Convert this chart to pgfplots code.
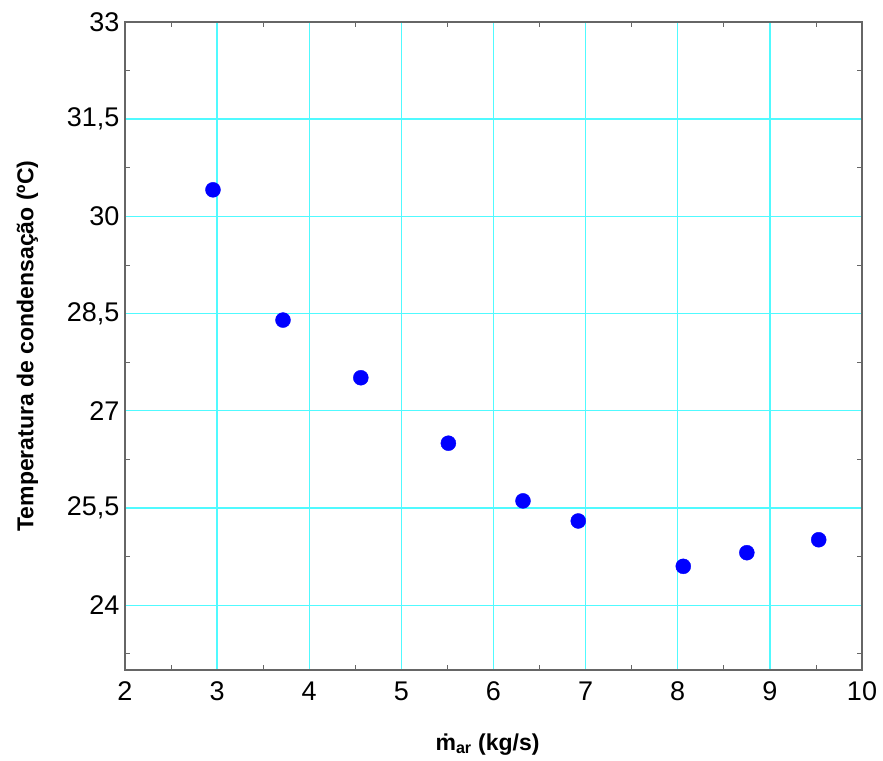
\documentclass[border=0pt]{standalone}
\usepackage{pgfplots}
\pgfplotsset{compat=1.18}
\usepackage{fontspec}
\setmainfont{Liberation Sans}
\definecolor{gridc}{RGB}{80,250,255}
\begin{document}
\begin{tikzpicture}
\begin{axis}[
  scale only axis,
  width=737pt, height=648pt,
  xmin=2, xmax=10, ymin=23, ymax=33,
  xtick={2,3,...,10},
  ytick={24,25.5,27,28.5,30,31.5,33},
  yticklabels={24,{25,5},27,{28,5},30,{31,5},33},
  minor xtick={2.5,3.5,...,9.5},
  minor ytick={23.25,24.75,...,32.25},
  grid=major,
  major grid style={gridc, line width=1.4pt},
  axis line style={gray!80!black, line width=1.2pt},
  major tick length=0pt,
  minor tick length=5pt,
  every minor tick/.style={gray!80!black, line width=0.8pt},
  tick align=inside,
  /pgf/number format/assume math mode=true,
  ticklabel style={font=\fontsize{27}{32}\selectfont},
  xticklabel style={yshift=-8pt},
  yticklabel style={xshift=-2pt},
  xlabel={\textbf{ṁ\textsubscript{ar} (kg/s)}},
  ylabel={\textbf{Temperatura de condensação (ºC)}},
  label style={font=\fontsize{23}{27}\selectfont},
  xlabel style={yshift=-26pt, xshift=-6pt},
  ylabel style={yshift=22pt},
]
\addplot[only marks, mark=*, mark size=7.5pt, color=blue, fill=blue] coordinates {
(2.955,30.41)
(3.715,28.40)
(4.56,27.51)
(5.51,26.50)
(6.32,25.61)
(6.92,25.30)
(8.06,24.60)
(8.75,24.81)
(9.53,25.01)
};
\end{axis}
\path ([xshift=-125pt,yshift=-90pt]current axis.south west) rectangle ([xshift=21pt,yshift=22pt]current axis.north east);
\end{tikzpicture}
\end{document}
